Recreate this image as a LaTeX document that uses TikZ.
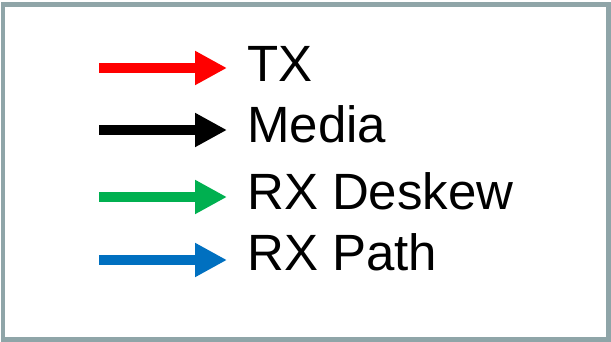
\documentclass[tikz,border=0pt]{standalone}
\usepackage{fontspec}
\setmainfont{Liberation Sans}
\usepackage{xcolor}
\usetikzlibrary{arrows.meta}
\definecolor{framegray}{RGB}{143,165,168}
\definecolor{legendgreen}{RGB}{0,176,80}
\definecolor{legendblue}{RGB}{0,112,192}
\tikzset{legend arrow/.style={line width=10pt, -{Triangle[length=32pt,width=32pt]}, shorten >=20pt},
 legend text/.style={anchor=base west, inner sep=0pt, font=\fontsize{51}{60}\selectfont},
 }

\begin{document}
\begin{tikzpicture}[x=1pt, y=-1pt]
        \useasboundingbox (0,0) rectangle (611,342);
        \draw[framegray, line width=4.5pt] (3,4.5) rectangle (608.5,339.5);
        \foreach \lbl/\col/\y/\base[count=\i] in {TX/red/68/82, Media/black/130/143, RX Deskew/legendgreen/197/210, RX Path/legendblue/260/270} {
            \coordinate (s\i) at (99,\y);
            \node[legend text] (l\i) at (247,\base) {\lbl};
            \draw[legend arrow, \col] (s\i) -- (s\i -| l\i.west);
        }
    \end{tikzpicture}
\end{document}
